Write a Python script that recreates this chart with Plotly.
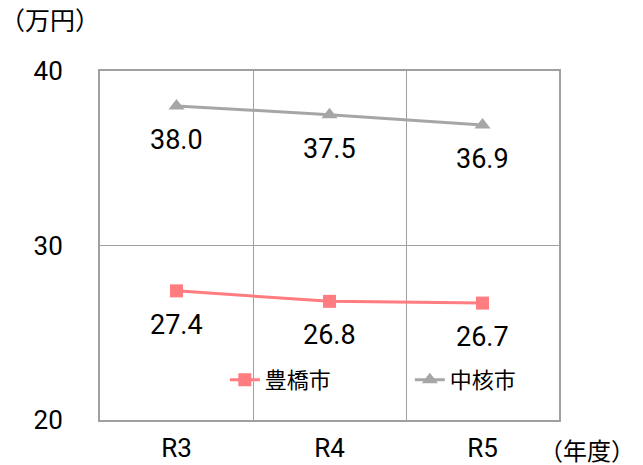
import plotly.graph_objects as go

years = ["R3", "R4", "R5"]
toyohashi = [27.4, 26.8, 26.7]
chukaku = [38.0, 37.5, 36.9]
y_ticks = [20, 30, 40]

FONT = "Roboto, 'Noto Sans CJK JP', sans-serif"
PINK = "#FF7C80"
GRAY = "#A6A6A6"

fig = go.Figure()
fig.add_trace(go.Scatter(
    x=years, y=toyohashi, name="豊橋市", mode="lines+markers",
    line=dict(color=PINK, width=3),
    marker=dict(symbol="square", size=13, color=PINK),
))
fig.add_trace(go.Scatter(
    x=years, y=chukaku, name="中核市", mode="lines+markers",
    line=dict(color=GRAY, width=3),
    marker=dict(symbol="triangle-up", size=14, color=GRAY),
))

# value labels under each point
for series in (toyohashi, chukaku):
    for x, v in zip(years, series):
        fig.add_annotation(x=x, y=v, text=f"{v:.1f}", showarrow=False,
                           yshift=-34, font=dict(size=27, color="#000", family=FONT))

fig.add_annotation(xref="paper", yref="paper", x=-0.11, y=1.142, xanchor="center",
                   yanchor="middle", text="（万円）", showarrow=False,
                   font=dict(size=25, color="#000", family=FONT))
fig.add_annotation(xref="paper", yref="paper", x=1.168, y=-0.092, xanchor="right",
                   yanchor="middle", text="（年度）", showarrow=False, borderpad=0,
                   font=dict(size=24, color="#000", family=FONT))

fig.update_layout(
    width=643, height=465,
    margin=dict(l=100, r=84, t=71, b=45),
    paper_bgcolor="white", plot_bgcolor="white",
    font=dict(family=FONT, color="#000"),
    showlegend=True,
    legend=dict(orientation="h", x=0.272, y=0.115, xanchor="left", yanchor="middle",
                font=dict(size=22, family=FONT, color="#000"),
                bgcolor="rgba(0,0,0,0)", entrywidth=140, entrywidthmode="pixels",
                itemwidth=30),
    xaxis=dict(type="category", range=[-0.5, 2.5], tickson="boundaries",
               showgrid=True, gridcolor="#A0A0A0", gridwidth=1, automargin=False,
               ticks="", showline=True, linecolor="#A0A0A0", linewidth=2, mirror=True,
               tickfont=dict(size=26, family=FONT, color="#000"),
               ticklabelstandoff=4),
    yaxis=dict(range=[20, 40], tickvals=y_ticks, showgrid=True, gridcolor="#A0A0A0",
               gridwidth=1, zeroline=False, ticks="", automargin=False,
               showline=True, linecolor="#A0A0A0", linewidth=2, mirror=True,
               tickfont=dict(size=26, family=FONT, color="#000"),
               ticklabelstandoff=30),
)

fig.write_html("out.html")
